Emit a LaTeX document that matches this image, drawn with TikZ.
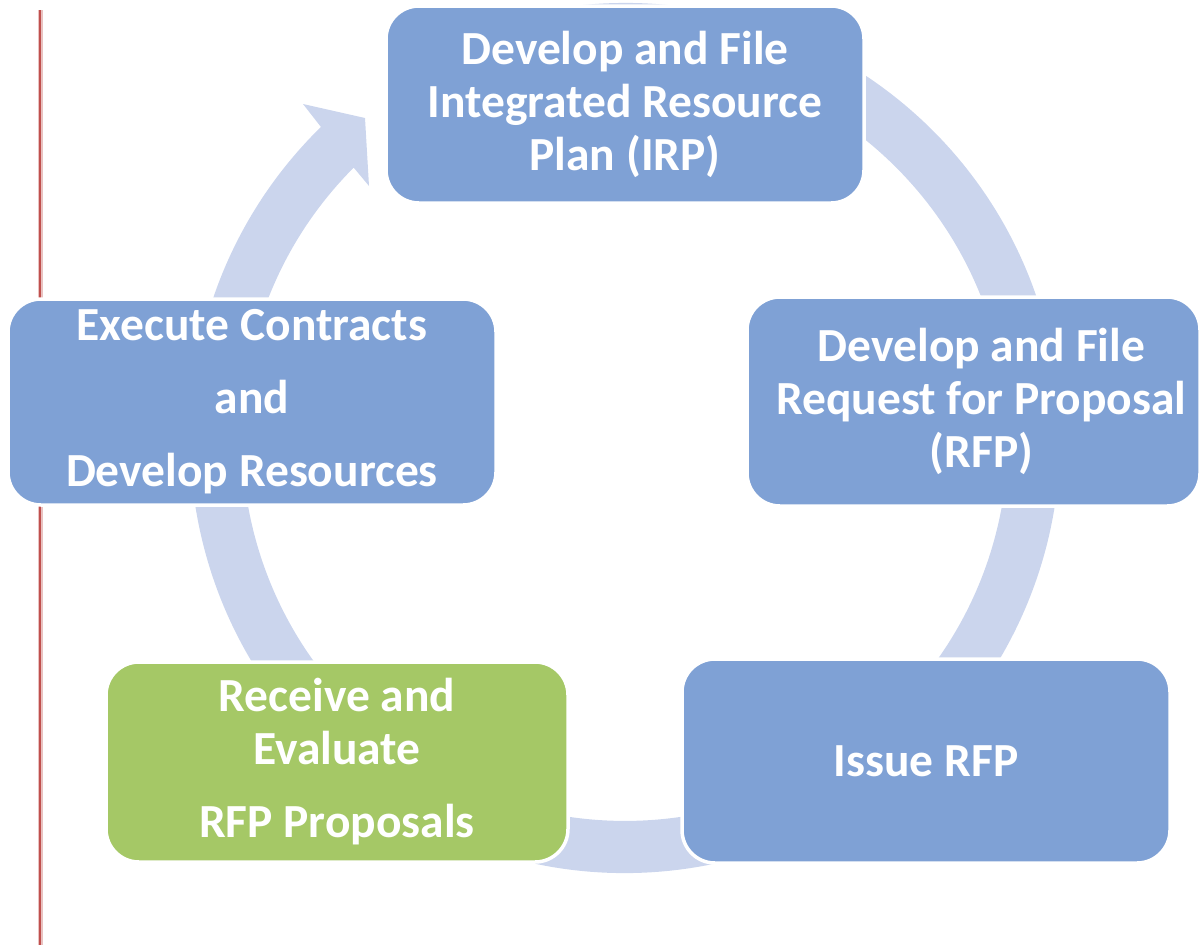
\documentclass[tikz,border=0pt]{standalone}
\usepackage{fontspec}
\setmainfont{Carlito}
\definecolor{boxblue}{HTML}{7FA1D5}
\definecolor{boxgreen}{HTML}{A5C866}
\definecolor{ringblue}{HTML}{CBD5ED}
\definecolor{redrule}{HTML}{C0504D}
\begin{document}
\begin{tikzpicture}[x=1pt,y=-1pt,
  stagebox/.style={rounded corners=33pt, draw=white, line width=3.5pt, fill=boxblue,
    text=white, font=\bfseries\fontsize{47.5}{53}\selectfont, align=center, inner sep=0pt},
  greenbox/.style={stagebox, fill=boxgreen}]
\useasboundingbox (0,0) rectangle (1202,948);
% red rule at the left
\draw[redrule!35, line width=5pt] (40,10) -- (40,945);
\draw[redrule, line width=2.5pt] (40,10) -- (40,945);
% circular arrow
\fill[ringblue] (549.46,9.61) arc[start angle=-100, end angle=225.65, radius=435]
  -- (303,104) -- (365,118) -- (369,186) -- (353.7,167.6)
  arc[start angle=224.9, end angle=-100, radius=383] -- cycle;
% stages
\node[stagebox, minimum width=478pt, minimum height=197pt] (irp) at (625,104.5)
  {Develop and File\\Integrated Resource\\Plan (IRP)};
\node[stagebox, minimum width=453pt, minimum height=209pt] (rfp) at (973.5,401.5)
  {\hspace*{16pt}Develop and File\\\hspace*{16pt}Request for Proposal\\\hspace*{16pt}(RFP)};
\node[stagebox, minimum width=488pt, minimum height=204pt] (issue) at (926,761)
  {Issue RFP};
\node[greenbox, minimum width=462pt, minimum height=200pt] (eval) at (337,762)
  {Receive and\\Evaluate\\[20pt]RFP Proposals};
\node[stagebox, minimum width=488pt, minimum height=206pt] (exec) at (252,402)
  {Execute Contracts\\[20pt]and\\[20pt]Develop Resources};
\end{tikzpicture}
\end{document}
